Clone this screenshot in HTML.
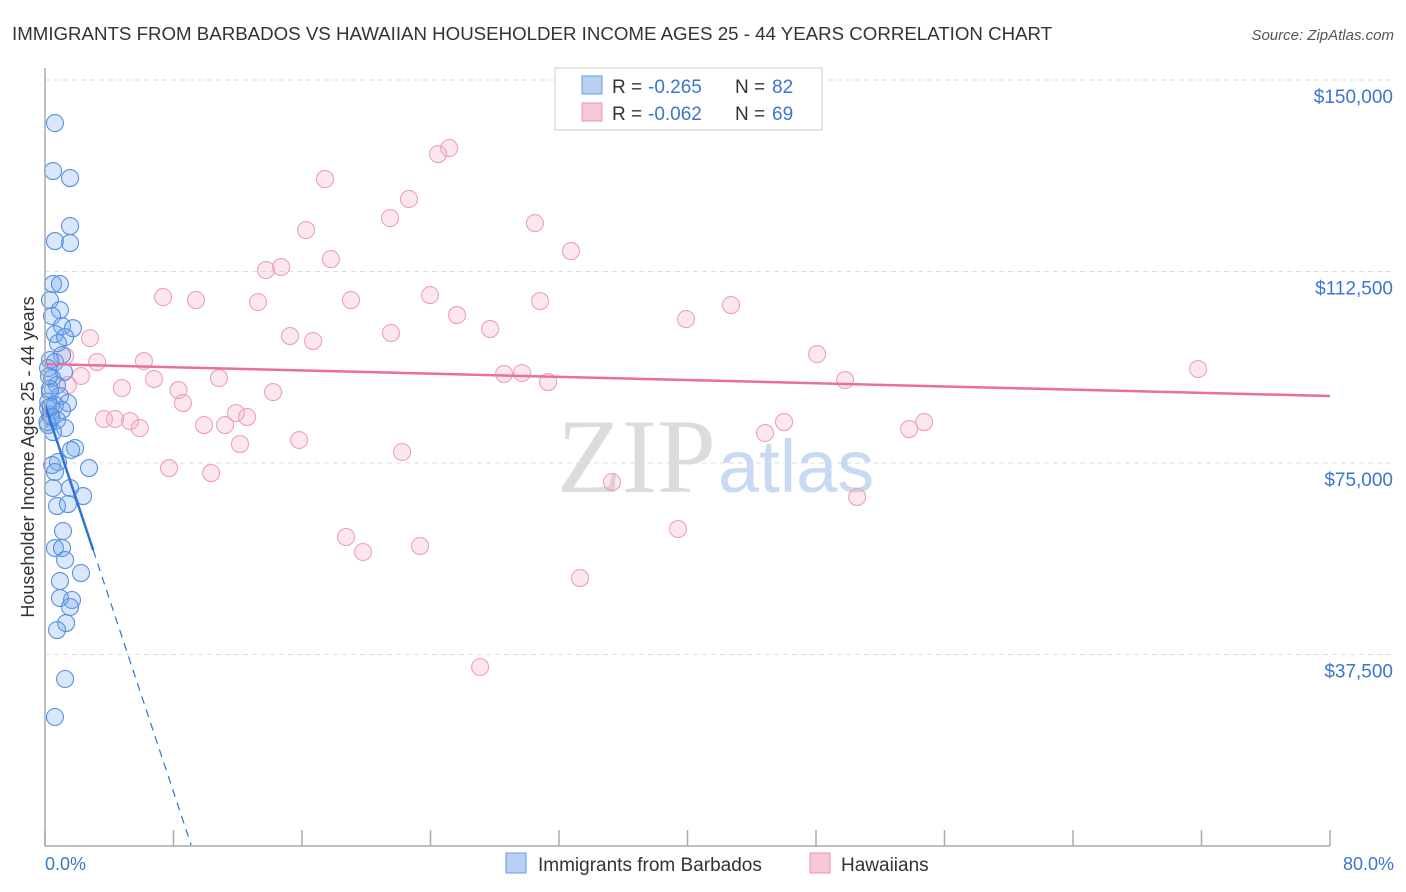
<!DOCTYPE html>
<html><head><meta charset="utf-8"><style>
body{margin:0;background:#fff;font-family:"Liberation Sans",sans-serif}
svg{display:block}
</style></head><body>
<svg width="1406" height="892">
<text x="12" y="40" font-size="18.7" fill="#333">IMMIGRANTS FROM BARBADOS VS HAWAIIAN HOUSEHOLDER INCOME AGES 25 - 44 YEARS CORRELATION CHART</text>
<text x="1394" y="40" font-size="15" fill="#555" font-style="italic" text-anchor="end">Source: ZipAtlas.com</text>
<g id="grid"></g>
<text x="716" y="492" font-size="106" fill="#dcdcdc" text-anchor="end" font-family="Liberation Serif">ZIP</text>
<text x="718" y="492" font-size="74" fill="#c8daf2">atlas</text>
<g id="pts"></g>
<g id="lines"></g>
<line x1="45" y1="68" x2="45" y2="846" stroke="#aaa" stroke-width="1.5"/>
<line x1="45" y1="846" x2="1330" y2="846" stroke="#aaa" stroke-width="1.5"/>
<text x="45" y="870" font-size="18" fill="#3a76d0">0.0%</text>
<text x="1394" y="870" font-size="18" fill="#3a76d0" text-anchor="end">80.0%</text>
<text transform="translate(34,457) rotate(-90)" font-size="18" fill="#333" text-anchor="middle">Householder Income Ages 25 - 44 years</text>
<g>
<rect x="555" y="68" width="267" height="62" fill="#fff" stroke="#ccc"/>
<rect x="582" y="76" width="20" height="18" fill="#b8d0f4" stroke="#6a9ae0"/>
<rect x="582" y="103" width="20" height="18" fill="#f8c8d8" stroke="#e890ae"/>
<text x="612" y="93" font-size="19" fill="#333">R =</text>
<text x="648" y="93" font-size="19" fill="#3a76d0">-0.265</text>
<text x="735" y="93" font-size="19" fill="#333">N =</text>
<text x="772" y="93" font-size="19" fill="#3a76d0">82</text>
<text x="612" y="120" font-size="19" fill="#333">R =</text>
<text x="648" y="120" font-size="19" fill="#3a76d0">-0.062</text>
<text x="735" y="120" font-size="19" fill="#333">N =</text>
<text x="772" y="120" font-size="19" fill="#3a76d0">69</text>
</g>
<g>
<rect x="506" y="853" width="20" height="20" fill="#b8d0f4" stroke="#6a9ae0"/>
<text x="538" y="871" font-size="19" fill="#333">Immigrants from Barbados</text>
<rect x="810" y="853" width="20" height="20" fill="#f8c8d8" stroke="#e890ae"/>
<text x="841" y="871" font-size="19" fill="#333">Hawaiians</text>
</g>
</svg>
<script>
const yTicks=[37500,75000,112500,150000];
const yTickLabels=["$37,500","$75,000","$112,500","$150,000"];
const xTicks=[0,8,16,24,32,40,48,56,64,72,80];
const blueX=[.62,.5,1.56,1.56,.62,1.56,.5,.93,.31,.93,.44,1.06,1.74,.62,1.25,.81,1.06,.31,.62,.19,1.18,.44,.75,.31,.93,1.43,.62,.19,1.06,.31,.75,.19,1.25,.5,1.87,1.62,.81,.44,2.74,.62,.5,1.56,2.37,.75,1.43,1.12,.62,1.06,1.25,2.24,.93,1.68,.93,1.56,1.31,.75,1.25,.62,.2,.3,.4,.25,.35,.15];
const blueY=[141560,132170,130800,121400,118460,118070,110040,110040,106900,104950,103770,101800,101400,100250,99660,98480,96140,95160,94770,93590,92810,91630,90260,88890,88110,86740,86350,85760,85370,84390,83410,82430,81850,81060,77930,77540,75190,74600,74010,73230,70100,70100,68530,66570,66960,61680,58350,58350,56000,53450,51890,48170,48560,46800,43660,42290,32700,25260,87000,89500,84000,92000,86000,83000];
const pinkX=[25.16,24.47,17.43,22.66,21.48,30.5,16.25,32.75,17.8,14.7,13.76,7.35,9.4,19.05,23.97,13.26,30.82,42.71,25.65,39.91,27.71,21.54,2.8,15.25,16.69,48.07,1.25,6.16,3.24,71.79,28.58,29.7,2.24,10.83,6.79,31.32,49.81,1.43,4.79,8.31,14.2,8.59,11.89,12.58,3.67,4.36,5.29,5.9,9.9,11.21,46.01,54.73,53.8,44.83,15.82,12.14,22.23,7.72,10.34,35.3,50.56,39.41,18.74,19.8,23.35,33.31,27.09];
const pinkY=[136670,135500,130600,126700,122960,121980,120610,116500,114930,113370,112780,107490,106900,106900,107880,106510,106710,105930,103970,103180,101230,100450,99460,99860,98880,96330,95940,94960,94770,93400,92420,92620,92030,91630,91440,90850,91240,90260,89670,89280,88890,86740,84780,84000,83610,83610,83210,81840,82430,82430,83020,83020,81650,80870,79500,78710,77150,74010,73030,71270,68330,62070,60500,57570,58740,52470,35050];
const blueTrend=[86350,-9470];
const pinkTrend=[94380,88110];
const NS="http://www.w3.org/2000/svg";
const sx=p=>45+p*(1285/80);
const sy=v=>846-v*(766/150000);
function mk(t,a,p){const e=document.createElementNS(NS,t);for(const k in a)e.setAttribute(k,a[k]);p.appendChild(e);return e;}
const grid=document.getElementById('grid');
yTicks.forEach((v,i)=>{
 const l=mk('line',{x1:45,x2:1394,y1:sy(v),y2:sy(v),stroke:'#ddd','stroke-dasharray':'5,4'},grid);
 
 
 const t=mk('text',{x:1393,y:sy(v)+23,'font-size':19,fill:'#3a76d0','text-anchor':'end'},grid);
 t.textContent=yTickLabels[i];
 
 
});
xTicks.forEach(p=>{
 const l=mk('line',{x1:sx(p),x2:sx(p),y1:830,y2:846,stroke:'#aaa','stroke-width':1.5},grid);
 
 
});
const pts=document.getElementById('pts');
pinkX.forEach((x,i)=>{
 const c=mk('circle',{cx:sx(x),cy:sy(pinkY[i]),r:8.5,fill:'rgba(244,170,196,0.28)',stroke:'#eea0bb','stroke-width':1.1},pts);
 
 
});
blueX.forEach((x,i)=>{
 const c=mk('circle',{cx:sx(x),cy:sy(blueY[i]),r:8.5,fill:'rgba(120,168,236,0.28)',stroke:'#5890e2','stroke-width':1.1},pts);
 
 
});
const ln=document.getElementById('lines');
const bf=p=>blueTrend[0]+blueTrend[1]*p;
let a=mk('line',{x1:sx(0),y1:sy(bf(0)),x2:sx(3),y2:sy(bf(3)),stroke:'#2f72d8','stroke-width':2.5},ln);


let b=mk('line',{x1:sx(3),y1:sy(bf(3)),x2:sx(9.1),y2:sy(bf(9.1)),stroke:'#2f72d8','stroke-width':1.2,'stroke-dasharray':'8,6'},ln);


let c=mk('line',{x1:sx(0),y1:sy(pinkTrend[0]),x2:sx(80),y2:sy(pinkTrend[1]),stroke:'#e8709a','stroke-width':2.5},ln);


</script>
</body></html>
